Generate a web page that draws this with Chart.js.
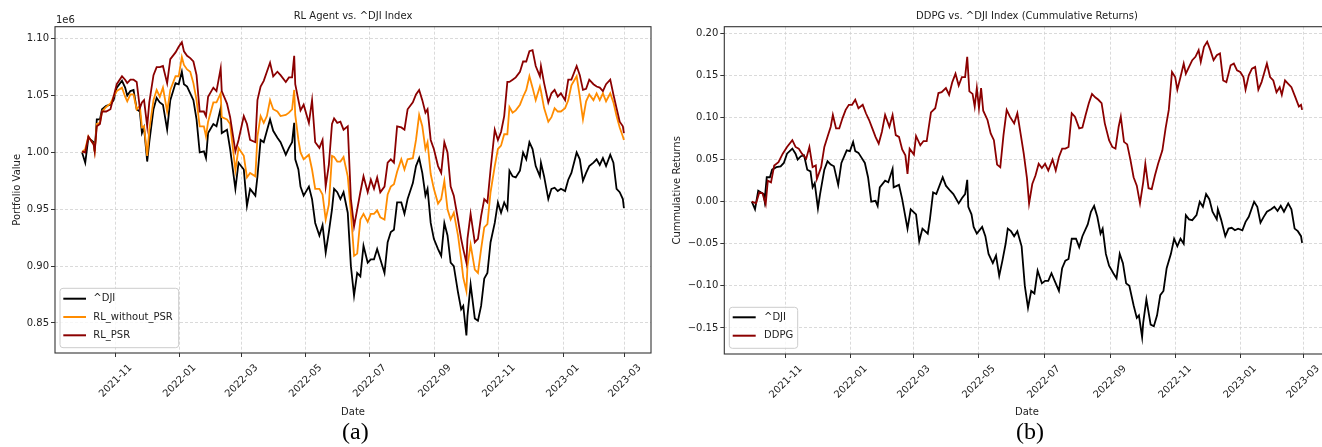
<!DOCTYPE html>
<html>
<head>
<meta charset="utf-8">
<script src="https://cdn.jsdelivr.net/npm/chart.js@4.4.1/dist/chart.umd.min.js"></script>
<style>
html, body { margin: 0; padding: 0; background: #fff; overflow: hidden; width: 1322px; height: 447px; }
#wrap { position: relative; width: 1322px; height: 447px; overflow: hidden; }
.panel { position: absolute; top: 0; height: 447px; }
.caption { position: absolute; top: 419px; font-family: 'Liberation Serif', 'Times New Roman', serif; font-size: 24px; line-height: 24px; color: #000; }
</style>
</head>
<body>
<div id="wrap">
  <div class="panel" style="left:0;width:660px"><canvas id="chartLeft" width="660" height="447"></canvas></div>
  <div class="panel" style="left:660px;width:680px"><canvas id="chartRight" width="680" height="447"></canvas></div>
  <div class="caption" style="left:342px">(a)</div>
  <div class="caption" style="left:1016px">(b)</div>
</div>
<script>
// x values are days counted from 2021-09-30
var monthTickDays = [32, 93, 152, 213, 274, 336, 397, 458, 517];
var monthTickLabels = ['2021-11', '2022-01', '2022-03', '2022-05', '2022-07', '2022-09', '2022-11', '2023-01', '2023-03'];
var portfolioTicks = [0.85, 0.90, 0.95, 1.00, 1.05, 1.10];
var returnTicks = [-0.15, -0.10, -0.05, 0.00, 0.05, 0.10, 0.15, 0.20];

var tradeDays = [
	0,3,6,11,12,14,17,19,23,27, 30,33,38,41,43,46,49,52,55,57,
	59,62,64,68,71,74,77,81,84,89, 92,95,97,100,103,106,109,112,116,118,
	120,125,128,132,133,138,141,146,149,154, 157,160,165,167,170,173,176,179,182,186,
	189,194,197,200,202,203,206,208,211,216, 219,222,226,229,232,235,238,240,243,246,
	249,253,256,259,262,265,268,272,275,278, 281,284,288,291,294,297,300,304,307,310,
	315,318,321,324,327,329,332,335,339,342, 345,348,351,354,358,361,363,366,367,370,
	374,377,380,383,386,389,393,396,399,402, 405,407,410,413,417,420,423,426,429,432,
	436,437,440,444,447,450,453,456,460,463, 466,471,474,477,480,483,487,490,493,496,
	499,503,506,509,512,515,516
];
// portfolio values in units of 1e6
var djiValue = [
	1.000,0.991,1.013,1.009,1.001,1.029,1.029,1.038,1.041,1.042, 1.046,1.057,1.063,1.057,1.050,1.054,1.055,1.038,1.036,1.017,
	1.022,0.992,1.009,1.038,1.048,1.044,1.042,1.020,1.046,1.061, 1.060,1.071,1.060,1.058,1.052,1.046,1.029,1.000,1.001,0.995,
	1.017,1.025,1.023,1.039,1.017,1.020,1.003,0.968,0.991,0.985, 0.953,0.968,0.962,0.979,1.011,1.009,1.019,1.029,1.019,1.013,
	1.009,0.998,1.004,1.009,1.026,0.994,0.985,0.970,0.962,0.970, 0.959,0.938,0.927,0.936,0.912,0.930,0.950,0.968,0.965,0.959,
	0.965,0.947,0.900,0.874,0.894,0.891,0.918,0.903,0.906,0.906, 0.915,0.906,0.894,0.921,0.930,0.932,0.956,0.956,0.946,0.959,
	0.973,0.988,0.995,0.982,0.962,0.968,0.938,0.924,0.915,0.909, 0.938,0.927,0.903,0.900,0.877,0.862,0.865,0.839,0.856,0.884,
	0.854,0.852,0.865,0.889,0.894,0.921,0.938,0.956,0.947,0.956, 0.950,0.984,0.979,0.978,0.984,1.000,0.994,1.009,1.003,0.988,
	0.979,0.991,0.979,0.959,0.968,0.969,0.966,0.968,0.966,0.976, 0.982,1.000,0.994,0.975,0.982,0.988,0.991,0.994,0.989,0.995,
	0.988,0.998,0.991,0.968,0.965,0.959,0.951
];
var rlWithoutPsr = [
	1.000,1.003,1.014,1.007,1.001,1.025,1.026,1.036,1.040,1.043, 1.049,1.054,1.057,1.049,1.045,1.051,1.051,1.038,1.041,1.022,
	1.023,0.997,1.020,1.046,1.055,1.049,1.057,1.036,1.055,1.067, 1.067,1.084,1.077,1.073,1.071,1.061,1.046,1.023,1.023,1.014,
	1.027,1.044,1.044,1.052,1.031,1.029,1.025,0.984,1.004,0.997, 0.978,0.982,0.979,1.014,1.032,1.026,1.032,1.046,1.038,1.036,
	1.032,1.033,1.035,1.038,1.055,1.033,1.011,1.000,0.994,0.998, 0.985,0.968,0.968,0.963,0.941,0.954,0.997,0.996,0.992,0.992,
	0.996,0.979,0.947,0.909,0.911,0.941,0.946,0.939,0.946,0.946, 0.949,0.943,0.941,0.963,0.970,0.972,0.983,0.994,0.985,0.994,
	0.995,1.011,1.033,1.023,1.003,1.009,0.981,0.968,0.955,0.959, 0.975,0.950,0.941,0.947,0.927,0.906,0.890,0.878,0.900,0.919,
	0.897,0.894,0.915,0.934,0.937,0.965,0.988,1.003,1.006,1.016, 1.016,1.040,1.035,1.037,1.042,1.049,1.055,1.067,1.057,1.046,
	1.058,1.054,1.039,1.027,1.031,1.039,1.036,1.036,1.039,1.046, 1.059,1.067,1.049,1.029,1.045,1.051,1.046,1.052,1.046,1.052,
	1.045,1.052,1.044,1.032,1.022,1.014,1.011
];
var rlPsr = [
	1.001,1.000,1.014,1.007,1.001,1.023,1.025,1.036,1.036,1.038, 1.049,1.060,1.067,1.064,1.061,1.064,1.064,1.062,1.039,1.044,
	1.046,1.023,1.044,1.068,1.075,1.075,1.076,1.061,1.082,1.088, 1.093,1.097,1.089,1.085,1.083,1.080,1.068,1.036,1.036,1.032,
	1.049,1.057,1.054,1.074,1.054,1.043,1.031,1.001,1.011,1.032, 1.025,1.011,1.009,1.046,1.058,1.063,1.071,1.079,1.067,1.071,
	1.068,1.062,1.066,1.066,1.085,1.060,1.046,1.037,1.042,1.026, 1.046,1.009,1.004,1.011,0.970,0.989,1.025,1.030,1.026,1.027,
	1.020,1.023,0.959,0.935,0.950,0.965,0.979,0.965,0.976,0.968, 0.978,0.965,0.970,0.991,0.994,0.991,1.023,1.022,1.020,1.038,
	1.044,1.051,1.055,1.046,1.035,1.038,1.011,1.003,0.988,0.982, 1.009,1.000,0.970,0.962,0.941,0.924,0.915,0.903,0.924,0.946,
	0.921,0.924,0.944,0.959,0.956,0.985,1.020,1.011,1.018,1.032, 1.062,1.062,1.064,1.066,1.071,1.080,1.080,1.089,1.090,1.076,
	1.067,1.076,1.061,1.044,1.052,1.055,1.049,1.052,1.046,1.064, 1.064,1.076,1.068,1.055,1.056,1.064,1.060,1.058,1.057,1.054,
	1.060,1.064,1.051,1.039,1.027,1.023,1.017
];

var ddpgDays = [
	0,4,7,10,13,15,18,21,25,29, 33,38,41,44,47,51,54,57,60,61,
	65,68,71,74,76,79,82,85,88,91, 94,97,100,104,107,110,113,116,119,122,
	125,129,132,135,138,141,144,146,148,152, 154,158,161,164,168,172,175,178,182,185,
	188,191,194,197,200,202,204,207,209,211, 213,215,217,221,224,227,230,233,236,239,
	242,246,249,252,255,258,260,263,266,269, 272,275,278,282,285,288,291,294,297,300,
	303,307,310,313,316,319,322,325,328,331, 335,338,341,344,346,349,352,355,358,361,
	364,367,369,372,375,378,381,385,388,391, 394,397,399,402,405,407,410,413,416,419,
	421,424,427,430,433,436,439,442,445,449, 452,455,458,461,463,466,469,472,475,478,
	483,486,489,492,495,497,500,503,506,510, 513,515,516
];
var ddpgReturn = [
	0.000,-0.002,0.011,0.010,-0.003,0.025,0.023,0.043,0.047,0.057, 0.065,0.073,0.065,0.063,0.057,0.051,0.065,0.041,0.043,0.027,
	0.041,0.065,0.077,0.089,0.103,0.087,0.087,0.099,0.109,0.115, 0.115,0.121,0.111,0.115,0.105,0.097,0.087,0.077,0.069,0.083,
	0.103,0.089,0.103,0.079,0.077,0.062,0.055,0.033,0.063,0.056, 0.078,0.067,0.072,0.072,0.106,0.111,0.129,0.130,0.135,0.127,
	0.142,0.152,0.138,0.148,0.148,0.172,0.131,0.128,0.113,0.135, 0.111,0.135,0.108,0.097,0.081,0.073,0.044,0.041,0.079,0.109,
	0.101,0.093,0.105,0.081,0.057,0.028,-0.002,0.021,0.031,0.045, 0.040,0.045,0.037,0.050,0.037,0.053,0.063,0.063,0.065,0.105,
	0.101,0.087,0.088,0.103,0.117,0.128,0.124,0.121,0.117,0.093, 0.073,0.065,0.063,0.089,0.101,0.071,0.068,0.050,0.029,0.019,
	-0.002,0.023,0.045,0.016,0.015,0.031,0.045,0.061,0.087,0.109, 0.154,0.148,0.133,0.148,0.164,0.152,0.160,0.168,0.172,0.180,
	0.166,0.184,0.190,0.180,0.168,0.174,0.176,0.144,0.142,0.162, 0.164,0.156,0.154,0.148,0.133,0.150,0.158,0.160,0.133,0.142,
	0.164,0.148,0.144,0.130,0.136,0.127,0.144,0.140,0.136,0.123, 0.113,0.115,0.109
];

(function() {
	'use strict';
	Chart.defaults.font.family = "'DejaVu Sans', sans-serif";
	Chart.defaults.font.size = 10;
	Chart.defaults.color = '#222222';

	var xMin = -25.8, xMax = 541.8;
	var textColor = '#222222';

	function pts(days, vals) {
		return days.map(function(d, i) { return {x: d, y: vals[i]}; });
	}
	// cumulative return of the index = normalised value - 1
	var djiReturn = djiValue.map(function(v) { return +(v - 1).toFixed(3); });

	var gridStyle = { color: '#d0d0d0', lineWidth: 0.8, tickLength: 4, tickColor: '#333', tickWidth: 1 };

	function scalesFor(p) {
		return {
			x: {
				type: 'linear', min: xMin, max: xMax,
				afterBuildTicks: function(s) { s.ticks = monthTickDays.map(function(v) { return {value: v}; }); },
				afterFit: function(s) { s.height = p.xHeight; },
				ticks: { display: false },
				grid: gridStyle,
				border: { display: false, dash: [3, 2] },
				title: { display: true, text: 'Date', color: textColor, padding: {top: 0, bottom: 0} }
			},
			y: {
				type: 'linear', min: p.yMin, max: p.yMax,
				afterBuildTicks: function(s) { s.ticks = p.yTicks.map(function(v) { return {value: v}; }); },
				afterFit: function(s) { s.width = p.yWidth; },
				ticks: { padding: 2, color: textColor, callback: function(v) { return v.toFixed(2).replace('-', '\u2212'); } },
				grid: gridStyle,
				border: { display: false, dash: [3, 2] },
				title: { display: true, text: p.yTitle, color: textColor, padding: {top: p.yTitlePad, bottom: 0} }
			}
		};
	}

	var panelPlugin = {
		id: 'panel',
		afterDraw: function(chart, args, o) {
			var ctx = chart.ctx, a = chart.chartArea, xs = chart.scales.x;
			ctx.save();
			ctx.strokeStyle = '#333333';
			ctx.lineWidth = 1.1;
			ctx.strokeRect(a.left, a.top, a.right - a.left, a.bottom - a.top);

			ctx.fillStyle = textColor;
			ctx.font = "10px 'DejaVu Sans'";
			ctx.textAlign = 'center';
			ctx.textBaseline = 'alphabetic';
			ctx.fillText(o.title, (a.left + a.right) / 2, o.titleY);
			if (o.offsetText) {
				ctx.textAlign = 'left';
				ctx.fillText(o.offsetText, a.left + 1, o.offsetY);
			}
			// rotated date labels, centred under each tick
			ctx.textAlign = 'center';
			ctx.textBaseline = 'middle';
			monthTickDays.forEach(function(d, i) {
				ctx.save();
				ctx.translate(xs.getPixelForValue(d), o.tickLabelY);
				ctx.rotate(-Math.PI / 4);
				ctx.fillText(monthTickLabels[i], 0, 0);
				ctx.restore();
			});
			// legend box
			var L = o.legend;
			ctx.beginPath();
			ctx.roundRect(L.x, L.y, L.w, L.h, 3);
			ctx.fillStyle = 'rgba(255,255,255,0.8)';
			ctx.fill();
			ctx.strokeStyle = '#cccccc';
			ctx.lineWidth = 1;
			ctx.stroke();
			chart.data.datasets.forEach(function(ds, i) {
				var y = L.rowY[i];
				ctx.strokeStyle = ds.borderColor;
				ctx.lineWidth = 2;
				ctx.beginPath();
				ctx.moveTo(L.x1, y);
				ctx.lineTo(L.x2, y);
				ctx.stroke();
				ctx.fillStyle = textColor;
				ctx.textAlign = 'left';
				ctx.textBaseline = 'middle';
				ctx.fillText(ds.label, L.textX, y);
			});
			ctx.restore();
		}
	};

	function line(label, data, color, order) {
		return { label: label, data: data, borderColor: color, backgroundColor: color, borderWidth: 1.8,
			pointRadius: 0, tension: 0, fill: false, order: order };
	}

	/** LEFT: portfolio value **/
	new Chart(document.getElementById('chartLeft'), {
		type: 'line',
		data: {
			datasets: [
				line('^DJI', pts(tradeDays, djiValue), '#000000', 3),
				line('RL_without_PSR', pts(tradeDays, rlWithoutPsr), '#ff8c00', 2),
				line('RL_PSR', pts(tradeDays, rlPsr), '#8b0000', 1)
			]
		},
		options: {
			responsive: false, animation: false, devicePixelRatio: 1, events: [],
			layout: { padding: { left: 0, top: 26.7, right: 9, bottom: 28.7 } },
			plugins: {
				legend: { display: false }, tooltip: { enabled: false },
				panel: {
					title: 'RL Agent vs. ^DJI Index', titleY: 19.3,
					offsetText: '1e6', offsetY: 23,
					tickLabelY: 381,
					legend: { x: 60, y: 288.3, w: 118.7, h: 59.4, rowY: [298.7, 317, 335.3], x1: 63.3, x2: 86, textX: 93.3 }
				}
			},
			scales: scalesFor({ xHeight: 65.3, yWidth: 55, yMin: 0.8236, yMax: 1.1106, yTicks: portfolioTicks,
				yTitle: 'Portfolio Value', yTitlePad: 11.5 })
		},
		plugins: [panelPlugin]
	});

	/** RIGHT: cumulative returns **/
	new Chart(document.getElementById('chartRight'), {
		type: 'line',
		data: {
			datasets: [
				line('^DJI', pts(tradeDays, djiReturn), '#000000', 2),
				line('DDPG', pts(ddpgDays, ddpgReturn), '#8b0000', 1)
			]
		},
		options: {
			responsive: false, animation: false, devicePixelRatio: 1, events: [],
			layout: { padding: { left: 0, top: 26.7, right: 10.4, bottom: 28.7 } },
			plugins: {
				legend: { display: false }, tooltip: { enabled: false },
				panel: {
					title: 'DDPG vs. ^DJI Index (Cummulative Returns)', titleY: 19.3,
					tickLabelY: 382,
					legend: { x: 69.3, y: 307.3, w: 68.4, h: 41, rowY: [317.3, 335.7], x1: 72.7, x2: 95.7, textX: 104 }
				}
			},
			scales: scalesFor({ xHeight: 64.3, yWidth: 64.3, yMin: -0.1809, yMax: 0.2078, yTicks: returnTicks,
				yTitle: 'Cummulative Returns', yTitlePad: 11 })
		},
		plugins: [panelPlugin]
	});
})();
</script>
</body>
</html>
